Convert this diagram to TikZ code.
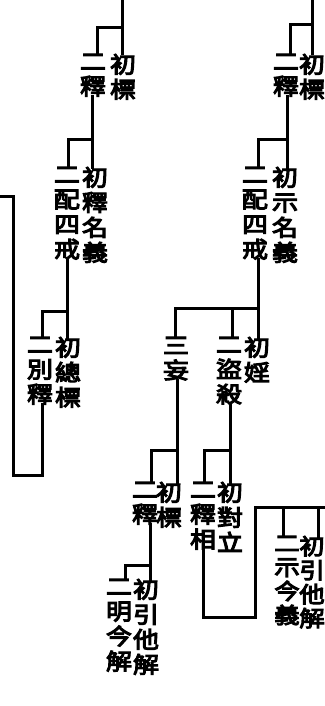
\documentclass[tikz,border=0pt]{standalone}
\usepackage{fontspec}
\newfontfamily\cjk[FakeBold=5,FakeStretch=1.15]{Noto Sans CJK TC}
\begin{document}
\begin{tikzpicture}[x=1pt,y=-1pt,
  col/.style={anchor=north,inner sep=0pt,outer sep=0pt,align=center,font=\cjk\fontsize{22.5}{25}\selectfont},
  colb/.style={col,font=\cjk\fontsize{22}{24}\selectfont},
  ln/.style={line width=3pt,line cap=rect}]
\fill[white] (0,0) rectangle (324,706);
\useasboundingbox (0,0) rectangle (324,706);
% left tree
\node[col] (L1r) at (123,54) {初\\標};
\node[col] (L1l) at (93,54) {二\\釋};
\node[col] (L2r) at (95,167) {初\\釋\\名\\義};
\node[col] (L2l) at (67,167) {二\\配\\四\\戒};
\node[col] (L3r) at (68,337) {初\\總\\標};
\node[col] (L3l) at (40,337) {二\\別\\釋};
% right tree
\node[col] (R1r) at (312,54) {初\\標};
\node[col] (R1l) at (286,54) {二\\釋};
\node[col] (R2r) at (285,167) {初\\示\\名\\義};
\node[col] (R2l) at (255,167) {二\\配\\四\\戒};
\node[col] (R3a) at (257,337) {初\\婬};
\node[col] (R3b) at (229,337) {二\\盜\\殺};
\node[col] (R3c) at (176,337) {三\\妄};
\node[col] (R4a) at (169,482) {初\\標};
\node[col] (R4b) at (145,482) {二\\釋};
\node[col] (R4c) at (230,482) {初\\對\\立};
\node[col] (R4d) at (203,482) {二\\釋\\相};
\node[col] (R5a) at (146,579) {初\\引\\他\\解};
\node[col] (R5b) at (119,579) {二\\明\\今\\解};
\node[colb] (R6a) at (312,536) {初\\引\\他\\解};
\node[colb] (R6b) at (287,536) {二\\示\\今\\義};
% free ends
\coordinate (Ltop) at (122,0);
\coordinate (Rtop) at (312,0);
\coordinate (Lend) at (0,196);
\coordinate (Rend) at (324,507);
% left connectors
\draw[ln] (Ltop) -- (Ltop |- L1r.north);
\draw[ln] (122,28) -| ([xshift=4pt]L1l.north);
\draw[ln] ([xshift=-1pt]L1l.south) -- ([xshift=-1pt]L1l.south |- L2r.north);
\draw[ln] (92,139) -| ([xshift=1pt]L2l.north);
\draw[ln] (L2l.south) -- (L2l.south |- L3r.north);
\draw[ln] (67,311) -| ([xshift=2pt]L3l.north);
\draw[ln] ([xshift=2pt]L3l.south) |- (13,475) -- (13,196) -- (Lend);
% right connectors
\draw[ln] (Rtop) -- (Rtop |- R1r.north);
\draw[ln] (312,25) -| ([xshift=4pt]R1l.north);
\draw[ln] ([xshift=1pt]R1l.south) -- ([xshift=1pt]R1l.south |- R2r.north);
\draw[ln] (287,139) -| ([xshift=3pt]R2l.north);
\draw[ln] ([xshift=3pt]R2l.south) -- ([xshift=3pt]R2l.south |- R3a.north);
\draw[ln] (258,308) -| ([xshift=-1pt]R3c.north);
\draw[ln] (232,308) -- ([xshift=3pt]R3b.north);
\draw[ln] ([xshift=1pt]R3c.south) -- ([xshift=1pt]R3c.south |- R4a.north);
\draw[ln] (177,450) -| ([xshift=6pt]R4b.north);
\draw[ln] ([xshift=1pt]R3b.south) -- ([xshift=1pt]R3b.south |- R4c.north);
\draw[ln] (230,450) -| ([xshift=1pt]R4d.north);
\draw[ln] ([xshift=5pt]R4b.south) -- ([xshift=5pt]R4b.south |- R5a.north);
\draw[ln] (150,565) -| ([xshift=6pt]R5b.north);
\draw[ln] (R4d.south) |- (255,617) |- (Rend);
\draw[ln] (283,507) -- ([xshift=-4pt]R6b.north);
\draw[ln] (318,507) -- ([xshift=6pt]R6a.north);
\end{tikzpicture}
\end{document}
